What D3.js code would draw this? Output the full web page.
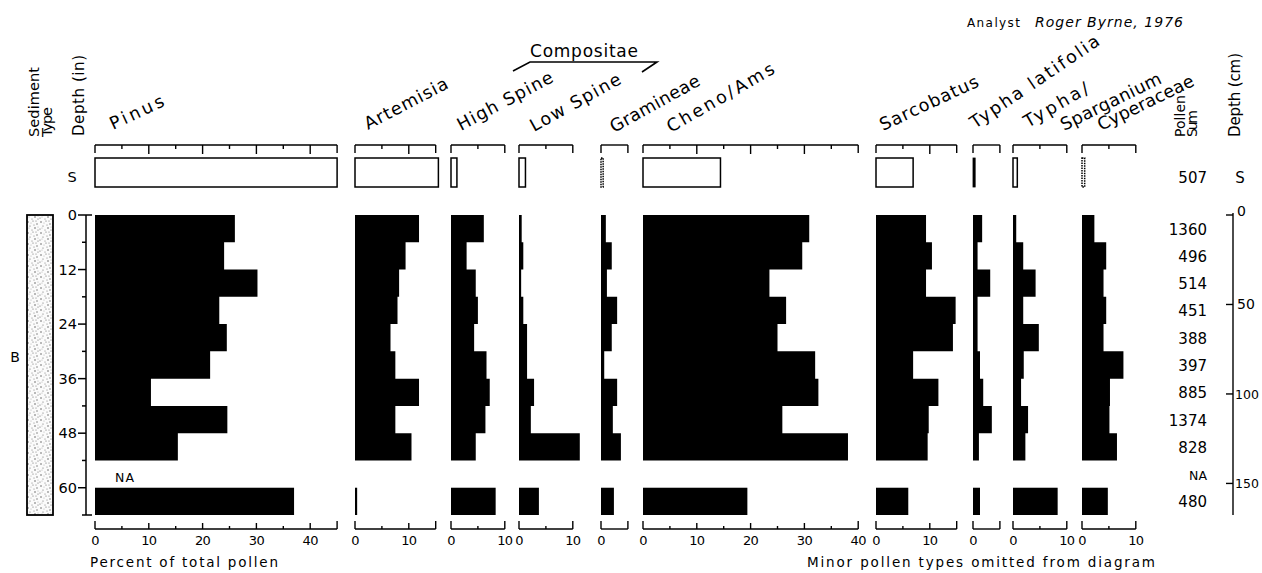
<!DOCTYPE html>
<html>
<head>
<meta charset="utf-8">
<script src="https://cdn.jsdelivr.net/npm/d3@7"></script>
<style>
  body { margin: 0; background: #fff; }
  svg text { font-family: "DejaVu Sans", sans-serif; fill: #000; }
</style>
</head>
<body>
<div id="chart"></div>
<script>
// pollen percentages, one value per 6-inch interval (0-54 in), then 60-66 in sample
const taxa = ["Pinus", "Artemisia", "High Spine", "Low Spine", "Gramineae", "Cheno/Ams",
  "Sarcobatus", "Typha latifolia", "Typha/Sparganium", "Cyperaceae"];
const axisMax = [45, 15, 10, 10, 5, 40, 15, 5, 10, 10];
const rowTops = [0, 6, 12, 18, 24, 30, 36, 42, 48];
const rowStep = 6;
const lowerSample = [60, 66];

const pinus = [26.0, 24.0, 30.2, 23.1, 24.5, 21.4, 10.4, 24.6, 15.4];
const artemisia = [11.9, 9.4, 8.2, 7.9, 6.6, 7.5, 11.9, 7.5, 10.5];
const highSpine = [6.1, 2.9, 4.6, 5.0, 4.3, 6.6, 7.2, 6.4, 4.6];
const lowSpine = [0.5, 0.8, 0.4, 0.8, 1.5, 1.5, 2.8, 2.2, 11.3];
const gramineae = [0.9, 2.0, 1.1, 3.0, 2.0, 0.6, 3.0, 2.2, 3.7];
const chenoAms = [30.9, 29.6, 23.5, 26.6, 25.0, 32.0, 32.6, 25.9, 38.1];
const sarcobatus = [9.3, 10.4, 9.3, 14.8, 14.3, 6.9, 11.6, 9.8, 9.6];
const typhaLatifolia = [1.7, 0.85, 3.2, 0.85, 0.85, 1.3, 1.9, 3.5, 1.1];
const typhaSparganium = [0.6, 1.9, 4.2, 1.9, 4.8, 2.0, 1.5, 2.8, 2.3];
const cyperaceae = [2.3, 4.5, 4.0, 4.5, 4.0, 7.7, 5.2, 5.1, 6.5];
const series = [pinus, artemisia, highSpine, lowSpine, gramineae, chenoAms,
  sarcobatus, typhaLatifolia, typhaSparganium, cyperaceae];

const lowerValues = [37, 0.4, 8.3, 3.7, 2.4, 19.4, 6.0, 1.3, 8.3, 4.8];
const surfaceValues = [45, 15.5, 1.1, 1.2, 0.4, 14.4, 6.9, 0.4, 0.8, 0.5];

const pollenSums = ["1360", "496", "514", "451", "388", "397", "885", "1374", "828", "NA", "480"];
const surfaceSum = "507";
const depthTicksIn = [0, 12, 24, 36, 48, 60];
const depthTicksCm = [0, 50, 100, 150];

// layout
const W = 1262, H = 573;
const panelX = [95, 355, 451, 519, 601, 643, 876, 973, 1013, 1082];
const pxPerPct = 5.38;
const surfaceStyle = ["open", "open", "open", "open", "dotted", "open", "open", "solid", "open", "dotted"];
const headers = [
  { t: "Pinus", x: 113, y: 130, a: 25, len: 58 },
  { t: "Artemisia", x: 368, y: 130, a: 27.5, len: 92 },
  { t: "High Spine", x: 461, y: 131, a: 28, len: 106 },
  { t: "Low Spine", x: 534, y: 132, a: 29, len: 101 },
  { t: "Gramineae", x: 614, y: 133, a: 29, len: 100 },
  { t: "Cheno/Ams", x: 671, y: 133, a: 30, len: 121 },
  { t: "Sarcobatus", x: 883, y: 131, a: 25, len: 107 },
  { t: "Typha latifolia", x: 975, y: 129, a: 34, len: 152 },
  { t: "Typha/", x: 1028, y: 128, a: 30, len: 72 },
  { t: "Sparganium", x: 1064, y: 131, a: 26, len: 110 },
  { t: "Cyperaceae", x: 1101, y: 131, a: 26, len: 105 }
];

const svg = d3.select("#chart").append("svg")
  .attr("width", W).attr("height", H);

const y = d3.scaleLinear().domain([0, 66]).range([215, 515]);
const yCm = d3.scaleLinear().domain([0, 66 * 2.54]).range([215, 515]);
const topAxisY = 145, botAxisY = 529;
const surfTop = 158, surfBot = 187;

// stipple pattern for the sediment column
const defs = svg.append("defs");
const pat = defs.append("pattern").attr("id", "stipple")
  .attr("width", 13).attr("height", 11).attr("patternUnits", "userSpaceOnUse");
pat.append("rect").attr("width", 13).attr("height", 11).attr("fill", "#fbfbfb");
[[2, 2, 0.8], [7, 1, 0.6], [11, 4, 0.7], [4, 6, 0.6], [9, 8, 0.8], [1, 9, 0.6], [6, 10, 0.5],
 [12, 10, 0.6], [5, 3, 0.4], [10, 1, 0.5], [3, 8, 0.4], [8, 5, 0.5], [12, 7, 0.4]]
  .forEach(([cx, cy, r]) => pat.append("circle").attr("cx", cx).attr("cy", cy).attr("r", r).attr("fill", "#666"));

svg.append("rect").attr("x", 27).attr("y", y(0)).attr("width", 26).attr("height", y(66) - y(0))
  .attr("fill", "url(#stipple)").attr("stroke", "#000").attr("stroke-width", 1.8);

svg.append("text").attr("x", 15).attr("y", 362).attr("text-anchor", "middle")
  .attr("font-size", 14).text("B");
svg.append("text").attr("x", 72).attr("y", 182).attr("text-anchor", "middle")
  .attr("font-size", 14.5).text("S");

// depth (in) axis
const dAx = svg.append("g").attr("stroke", "#000").attr("stroke-width", 1.5);
dAx.append("line").attr("x1", 86).attr("x2", 86).attr("y1", y(0)).attr("y2", y(66));
dAx.append("line").attr("x1", 86).attr("x2", 92).attr("y1", y(0)).attr("y2", y(0));
dAx.append("line").attr("x1", 86).attr("x2", 92).attr("y1", y(66)).attr("y2", y(66));
d3.range(0, 67, 6).forEach(d => {
  const major = depthTicksIn.includes(d);
  dAx.append("line").attr("x1", major ? 78 : 82).attr("x2", 86).attr("y1", y(d)).attr("y2", y(d));
});
svg.selectAll(".dlab").data(depthTicksIn).enter().append("text")
  .attr("x", 77).attr("y", d => y(d) + 5).attr("text-anchor", "end")
  .attr("font-size", 14.5).text(d => d);

svg.append("text").attr("x", 125).attr("y", 482).attr("text-anchor", "middle")
  .attr("font-size", 12.5).attr("letter-spacing", 1).text("NA");

// panels
taxa.forEach((name, i) => {
  const x = d3.scaleLinear().domain([0, axisMax[i]]).range([panelX[i], panelX[i] + axisMax[i] * pxPerPct]);
  const g = svg.append("g");

  // top bracket axis
  const ta = g.append("g").attr("stroke", "#000").attr("stroke-width", 1.4);
  ta.append("line").attr("x1", x(0)).attr("x2", x(axisMax[i])).attr("y1", topAxisY).attr("y2", topAxisY);
  d3.range(0, axisMax[i] + 0.1, 5).forEach(v => {
    const end = v === 0 || v === axisMax[i];
    const len = end ? 8 : (v % 10 === 0 ? 9 : 4);
    ta.append("line").attr("x1", x(v)).attr("x2", x(v)).attr("y1", topAxisY).attr("y2", topAxisY + len);
  });

  // bottom axis
  const ba = g.append("g").attr("stroke", "#000").attr("stroke-width", 1.4);
  ba.append("line").attr("x1", x(0)).attr("x2", x(axisMax[i])).attr("y1", botAxisY).attr("y2", botAxisY);
  d3.range(0, axisMax[i] + 0.1, 5).forEach(v => {
    const end = v === 0 || v === axisMax[i];
    const len = end ? 8 : (v % 10 === 0 ? 6 : 3);
    ba.append("line").attr("x1", x(v)).attr("x2", x(v)).attr("y1", botAxisY).attr("y2", botAxisY - len);
  });
  g.selectAll(".tl").data(d3.range(0, axisMax[i] + 0.1, 10)).enter().append("text")
    .attr("x", v => x(v)).attr("y", 545).attr("text-anchor", "middle")
    .attr("font-size", 13).attr("letter-spacing", -0.6).text(v => v);

  // surface sample
  const sw = Math.max(x(surfaceValues[i]) - x(0), 1.5);
  const st = surfaceStyle[i];
  g.append("rect").attr("x", x(0)).attr("y", surfTop).attr("width", sw).attr("height", surfBot - surfTop)
    .attr("fill", st === "solid" ? "#000" : "none")
    .attr("stroke", "#000").attr("stroke-width", st === "solid" ? 0.8 : 1.5)
    .attr("stroke-dasharray", st === "dotted" ? "1.5,1" : null);

  // core profile, stepped
  const vals = series[i];
  const pts = [[x(0), y(rowTops[0])]];
  vals.forEach((v, j) => {
    pts.push([x(v), y(rowTops[j])]);
    pts.push([x(v), y(rowTops[j] + rowStep)]);
  });
  pts.push([x(0), y(rowTops[rowTops.length - 1] + rowStep)]);
  g.append("path").attr("d", d3.line()(pts) + "Z").attr("fill", "#000");

  // lower sample
  g.append("rect").attr("x", x(0)).attr("y", y(lowerSample[0]))
    .attr("width", Math.max(x(lowerValues[i]) - x(0), 2))
    .attr("height", y(lowerSample[1]) - y(lowerSample[0])).attr("fill", "#000");
});

// header labels
headers.forEach(h => {
  svg.append("text")
    .attr("transform", `translate(${h.x},${h.y}) rotate(${-h.a})`)
    .attr("font-size", 17.5).attr("textLength", h.len).attr("lengthAdjust", "spacing")
    .text(h.t);
});

// Compositae bracket
svg.append("path").attr("d", d3.line()([[513, 71], [530, 62], [657, 62], [642, 72]]))
  .attr("fill", "none").attr("stroke", "#000").attr("stroke-width", 1.6);
svg.append("text").attr("x", 584).attr("y", 57).attr("text-anchor", "middle")
  .attr("font-size", 17).attr("textLength", 108).attr("lengthAdjust", "spacing").text("Compositae");

// vertical column titles
function vtitle(lines, x0, yb, size, gap, len) {
  lines.forEach((l, k) => {
    svg.append("text").attr("transform", `translate(${x0 + k * gap},${yb}) rotate(-90)`)
      .attr("font-size", size).attr("textLength", len[k]).attr("lengthAdjust", "spacing").text(l);
  });
}
vtitle(["Sediment", "Type"], 39, 137, 14.5, 13, [70, 30]);
vtitle(["Depth (in)"], 84, 136, 15, 0, [81]);
vtitle(["Pollen", "Sum"], 1185, 137, 14, 12, [42, 27]);
vtitle(["Depth (cm)"], 1240, 137, 15, 0, [84]);

// pollen sums
const sumY = pollenSums.map((s, j) => y(j * rowStep + rowStep / 2));
svg.selectAll(".ps").data(pollenSums).enter().append("text")
  .attr("x", 1207).attr("y", (d, j) => sumY[j] + 6).attr("text-anchor", "end")
  .attr("font-size", d => d === "NA" ? 12.5 : 15).text(d => d);
svg.append("text").attr("x", 1207).attr("y", 183).attr("text-anchor", "end")
  .attr("font-size", 15).text(surfaceSum);
svg.append("text").attr("x", 1240).attr("y", 183).attr("text-anchor", "middle")
  .attr("font-size", 15).text("S");

// depth (cm) axis
const cAx = svg.append("g").attr("stroke", "#000").attr("stroke-width", 1.4);
cAx.append("line").attr("x1", 1233).attr("x2", 1233).attr("y1", yCm(0) - 2).attr("y2", y(66));
depthTicksCm.forEach(c => {
  cAx.append("line").attr("x1", 1226).attr("x2", 1233).attr("y1", yCm(c)).attr("y2", yCm(c));
});
svg.selectAll(".cl").data(depthTicksCm).enter().append("text")
  .attr("x", c => c >= 100 ? 1235 : 1237).attr("y", c => yCm(c) + (c === 0 ? 1 : 5))
  .attr("font-size", c => c >= 100 ? 12.5 : 14).text(c => c);

// notes
svg.append("text").attr("x", 967).attr("y", 27).attr("font-size", 12)
  .attr("textLength", 53).attr("lengthAdjust", "spacing").text("Analyst");
svg.append("text").attr("x", 1035).attr("y", 27).attr("font-size", 14).attr("font-style", "italic")
  .attr("textLength", 148).attr("lengthAdjust", "spacing").text("Roger Byrne, 1976");
svg.append("text").attr("x", 90).attr("y", 567).attr("font-size", 13.5)
  .attr("textLength", 188).attr("lengthAdjust", "spacing").text("Percent of total pollen");
svg.append("text").attr("x", 807).attr("y", 567).attr("font-size", 13.5)
  .attr("textLength", 348).attr("lengthAdjust", "spacing").text("Minor pollen types omitted from diagram");
</script>
</body>
</html>
